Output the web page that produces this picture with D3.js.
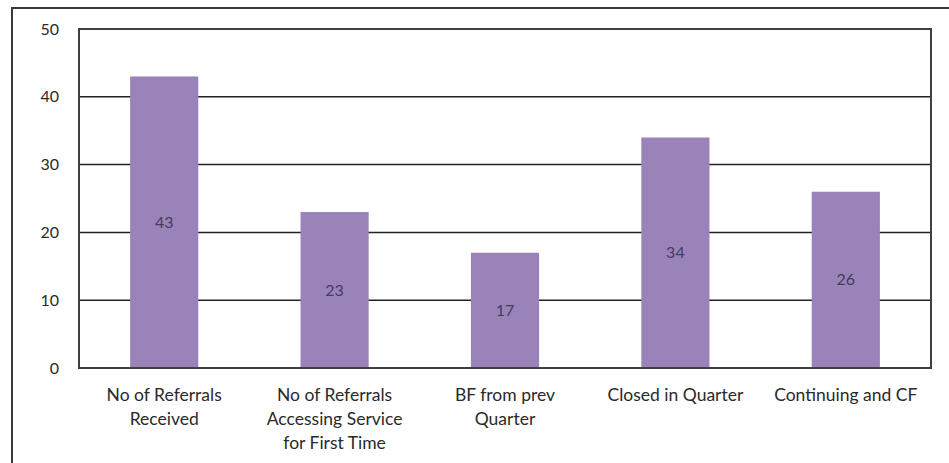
<!DOCTYPE html>
<html>
<head>
<meta charset="utf-8">
<script src="https://cdn.jsdelivr.net/npm/d3@7"></script>
<style>
  html, body { margin: 0; padding: 0; background: #fff; }
  svg { display: block; }
  text { font-family: Lato, "Open Sans", sans-serif; }
</style>
</head>
<body>
<svg id="chart" width="949" height="463"></svg>
<script>
// Referral activity for the quarter
const categories = [
  ["No of Referrals", "Received"],
  ["No of Referrals", "Accessing Service", "for First Time"],
  ["BF from prev", "Quarter"],
  ["Closed in Quarter"],
  ["Continuing and CF"]
];
const values = [43, 23, 17, 34, 26];
const yTicks = [0, 10, 20, 30, 40, 50];

const svg = d3.select("#chart");
const W = 949, H = 463;
const plot = { left: 79, top: 29, right: 931, bottom: 368 };

// outer frame (runs off the bottom/right of the view)
svg.append("rect")
  .attr("x", 12).attr("y", 8)
  .attr("width", W).attr("height", H)
  .attr("fill", "#fff").attr("stroke", "#3a3a3a").attr("stroke-width", 2);

const x = d3.scaleBand()
  .domain(d3.range(values.length))
  .range([plot.left, plot.right])
  .padding(0);

const y = d3.scaleLinear()
  .domain([0, 50])
  .range([plot.bottom, plot.top]);

// horizontal gridlines
svg.append("g")
  .selectAll("line")
  .data(yTicks)
  .join("line")
  .attr("x1", plot.left).attr("x2", plot.right)
  .attr("y1", d => y(d)).attr("y2", d => y(d))
  .attr("stroke", "#222").attr("stroke-width", 1.5);

// bars
const barW = x.bandwidth() * 0.4;
svg.append("g")
  .selectAll("rect")
  .data(values)
  .join("rect")
  .attr("x", (d, i) => x(i) + (x.bandwidth() - barW) / 2)
  .attr("y", d => y(d))
  .attr("width", barW)
  .attr("height", d => y(0) - y(d))
  .attr("fill", "#9a83b9");

// value labels centred in each bar
svg.append("g")
  .selectAll("text")
  .data(values)
  .join("text")
  .attr("x", (d, i) => x(i) + x.bandwidth() / 2)
  .attr("y", d => (y(d) + y(0)) / 2)
  .attr("dy", "0.35em")
  .attr("text-anchor", "middle")
  .attr("font-size", 16)
  .attr("fill", "#463c5a")
  .text(d => d);

// plot frame
svg.append("rect")
  .attr("x", plot.left).attr("y", plot.top)
  .attr("width", plot.right - plot.left)
  .attr("height", plot.bottom - plot.top)
  .attr("fill", "none").attr("stroke", "#404040").attr("stroke-width", 2);

// y axis labels
const yAxis = d3.axisLeft(y).tickValues(yTicks).tickSize(0).tickPadding(20);
const gy = svg.append("g")
  .attr("transform", `translate(${plot.left},0)`)
  .call(yAxis);
gy.select(".domain").remove();
gy.selectAll("text")
  .attr("font-size", 16)
  .attr("font-family", "Lato, 'Open Sans', sans-serif")
  .attr("fill", "#2a2a2a");

// category labels (multi-line)
const cat = svg.append("g")
  .selectAll("text")
  .data(categories)
  .join("text")
  .attr("text-anchor", "middle")
  .attr("font-size", 17.5)
  .attr("fill", "#2a2a2a");
cat.each(function(lines, i) {
  d3.select(this).selectAll("tspan")
    .data(lines)
    .join("tspan")
    .attr("x", x(i) + x.bandwidth() / 2)
    .attr("y", (d, j) => 401 + j * 24)
    .text(d => d);
});
</script>
</body>
</html>
